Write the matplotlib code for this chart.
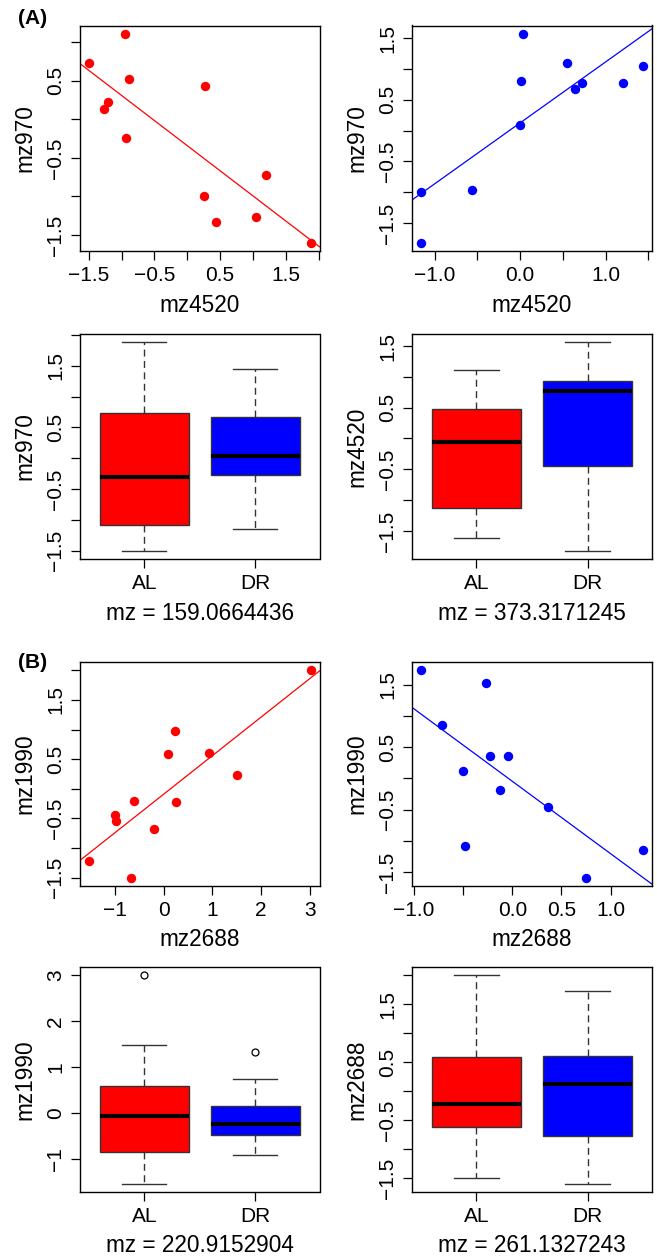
import numpy as np
import matplotlib
matplotlib.use("Agg")
import matplotlib.pyplot as plt

plt.rcParams["font.family"] = ["Liberation Sans", "DejaVu Sans"]

RED = "#FF0000"
BLUE = "#0000FF"

# (A) scatter data
a_al_x = [-1.50, -0.95, -0.89, -1.21, -1.27, -0.94, 0.27, 0.26, 0.44, 1.20, 1.04, 1.88]
a_al_y = [0.73, 1.11, 0.52, 0.22, 0.13, -0.24, 0.43, -0.99, -1.33, -0.72, -1.27, -1.60]
a_dr_x = [-1.16, -0.56, -1.16, 0.00, 0.01, 0.03, 0.55, 0.64, 0.72, 1.20, 1.44]
a_dr_y = [-0.99, -0.97, -1.82, 0.09, 0.81, 1.57, 1.10, 0.67, 0.77, 0.78, 1.04]

# (B) scatter data
b_al_x = [3.02, 0.24, 0.09, 0.93, 1.51, -0.62, 0.25, -1.00, -0.98, -0.21, -1.54, -0.67]
b_al_y = [2.00, 0.97, 0.59, 0.61, 0.24, -0.21, -0.22, -0.45, -0.54, -0.68, -1.22, -1.50]
b_dr_x = [-0.93, -0.27, -0.72, -0.23, -0.04, -0.50, -0.13, 0.36, -0.48, 1.33, 0.75]
b_dr_y = [1.73, 1.52, 0.86, 0.36, 0.36, 0.12, -0.19, -0.46, -1.08, -1.15, -1.59]

# box plot summaries: whislo, q1, median, q3, whishi
groups = ["AL", "DR"]
mz970_al = [-1.50, -1.08, -0.31, 0.74, 1.88]
mz970_dr = [-1.15, -0.27, 0.03, 0.67, 1.44]
mz4520_al = [-1.61, -1.13, -0.05, 0.48, 1.11]
mz4520_dr = [-1.82, -0.44, 0.77, 0.93, 1.56]
mz1990_al = [-1.54, -0.84, -0.07, 0.58, 1.48]
mz1990_dr = [-0.92, -0.49, -0.23, 0.16, 0.75]
mz1990_al_out = [3.00]
mz1990_dr_out = [1.33]
mz2688_al = [-1.50, -0.61, -0.22, 0.60, 2.00]
mz2688_dr = [-1.59, -0.76, 0.12, 0.61, 1.73]

TICK_FS = 15
LAB_FS = 16.3

fig = plt.figure(figsize=(6.57, 12.59), dpi=100)
W, H = 657.0, 1259.0


def make_ax(x0, y0, x1, y1):
    return fig.add_axes([x0 / W, 1 - y1 / H, (x1 - x0) / W, (y1 - y0) / H])


def set_ticks(ax, axis, ticks, shown, ints=False):
    labs = []
    for t in ticks:
        if any(abs(t - s) < 1e-9 for s in shown):
            labs.append(("%d" % t if ints else "%.1f" % t).replace("-", "\u2212"))
        else:
            labs.append("")
    if axis == "x":
        ax.set_xticks(ticks)
        ax.set_xticklabels(labs, fontsize=TICK_FS)
    else:
        ax.set_yticks(ticks)
        ax.set_yticklabels(labs, rotation=90, va="center", fontsize=TICK_FS)


def style(ax):
    for sp in ax.spines.values():
        sp.set_linewidth(1.0)
    ax.tick_params(axis="both", length=6.5, width=0.9, labelsize=TICK_FS)
    ax.tick_params(axis="x", pad=4)
    ax.tick_params(axis="y", pad=4)


def ext(vals):
    lo, hi = min(vals), max(vals)
    d = (hi - lo) * 0.04
    return lo - d, hi + d


def scatter_panel(ax, x, y, color, xlab, ylab):
    ax.scatter(x, y, s=46, color=color, zorder=3, linewidths=0)
    ax.set_xlim(*ext(x))
    ax.set_ylim(*ext(y))
    b, a = np.polyfit(x, y, 1)
    xs = np.array(ax.get_xlim())
    ax.plot(xs, a + b * xs, color=color, lw=0.9, zorder=2)
    ax.set_xlim(*ext(x))
    ax.set_xlabel(xlab, fontsize=LAB_FS, va="center")
    ax.xaxis.set_label_coords(0.5, -0.24)
    ax.set_ylabel(ylab, fontsize=LAB_FS, va="center")
    ax.yaxis.set_label_coords(-0.23, 0.5)
    style(ax)


def box_panel(ax, al, dr, ylab, title, al_out=(), dr_out=()):
    stats = []
    for s, out in ((al, al_out), (dr, dr_out)):
        stats.append(dict(whislo=s[0], q1=s[1], med=s[2], q3=s[3], whishi=s[4],
                          fliers=list(out)))
    bp = ax.bxp(stats, positions=[1, 2], widths=0.8, patch_artist=True,
                showfliers=True,
                boxprops=dict(edgecolor="#333333", linewidth=1.0),
                whiskerprops=dict(color="#333333", linewidth=1.0, linestyle=(0, (5, 3.2))),
                capprops=dict(color="#333333", linewidth=1.0),
                medianprops=dict(color="black", linewidth=3.0, solid_capstyle="butt"),
                flierprops=dict(marker="o", markersize=5, markerfacecolor="none",
                                markeredgecolor="black", markeredgewidth=0.9))
    bp["boxes"][0].set_facecolor(RED)
    bp["boxes"][1].set_facecolor(BLUE)
    allv = list(al) + list(dr) + list(al_out) + list(dr_out)
    ax.set_ylim(*ext(allv))
    ax.set_xlim(0.42, 2.58)
    ax.set_xticks([1, 2])
    ax.set_xticklabels(groups, fontsize=TICK_FS)
    ax.set_xlabel(title, fontsize=LAB_FS, va="center")
    ax.xaxis.set_label_coords(0.5, -0.24)
    ax.set_ylabel(ylab, fontsize=LAB_FS, va="center")
    ax.yaxis.set_label_coords(-0.23, 0.5)
    style(ax)


L0, L1 = 80, 319.5
R0, R1 = 412, 652
rows = [(25.5, 251), (334, 559), (662, 886), (967, 1192)]

# row 1
ax1 = make_ax(L0, rows[0][0], L1, rows[0][1])
scatter_panel(ax1, a_al_x, a_al_y, RED, "mz4520", "mz970")
set_ticks(ax1, "x", np.arange(-1.5, 2.01, 0.5), [-1.5, -0.5, 0.5, 1.5])
set_ticks(ax1, "y", np.arange(-1.5, 1.01, 0.5), [-1.5, -0.5, 0.5])

ax2 = make_ax(R0, rows[0][0], R1, rows[0][1])
scatter_panel(ax2, a_dr_x, a_dr_y, BLUE, "mz4520", "mz970")
set_ticks(ax2, "x", np.arange(-1.0, 1.51, 0.5), [-1.0, 0.0, 1.0])
set_ticks(ax2, "y", np.arange(-1.5, 1.51, 0.5), [-1.5, -0.5, 0.5, 1.5])

# row 2
ax3 = make_ax(L0, rows[1][0], L1, rows[1][1])
box_panel(ax3, mz970_al, mz970_dr, "mz970", "mz = 159.0664436")
set_ticks(ax3, "y", np.arange(-1.5, 2.01, 0.5), [-1.5, -0.5, 0.5, 1.5])

ax4 = make_ax(R0, rows[1][0], R1, rows[1][1])
box_panel(ax4, mz4520_al, mz4520_dr, "mz4520", "mz = 373.3171245")
set_ticks(ax4, "y", np.arange(-1.5, 1.51, 0.5), [-1.5, -0.5, 0.5, 1.5])

# row 3
ax5 = make_ax(L0, rows[2][0], L1, rows[2][1])
scatter_panel(ax5, b_al_x, b_al_y, RED, "mz2688", "mz1990")
set_ticks(ax5, "x", np.arange(-1, 3.01, 1), [-1, 0, 1, 2, 3], ints=True)
set_ticks(ax5, "y", np.arange(-1.5, 2.01, 0.5), [-1.5, -0.5, 0.5, 1.5])

ax6 = make_ax(R0, rows[2][0], R1, rows[2][1])
scatter_panel(ax6, b_dr_x, b_dr_y, BLUE, "mz2688", "mz1990")
set_ticks(ax6, "x", np.arange(-1.0, 1.01, 0.5), [-1.0, 0.0, 0.5, 1.0])
set_ticks(ax6, "y", np.arange(-1.5, 1.51, 0.5), [-1.5, -0.5, 0.5, 1.5])

# row 4
ax7 = make_ax(L0, rows[3][0], L1, rows[3][1])
box_panel(ax7, mz1990_al, mz1990_dr, "mz1990", "mz = 220.9152904",
          mz1990_al_out, mz1990_dr_out)
set_ticks(ax7, "y", np.arange(-1, 3.01, 1), [-1, 0, 1, 2, 3], ints=True)

ax8 = make_ax(R0, rows[3][0], R1, rows[3][1])
box_panel(ax8, mz2688_al, mz2688_dr, "mz2688", "mz = 261.1327243")
set_ticks(ax8, "y", np.arange(-1.5, 2.01, 0.5), [-1.5, -0.5, 0.5, 1.5])

fig.text(33 / W, 1 - 18 / H, "(A)", fontsize=15, fontweight="bold", ha="center", va="center")
fig.text(33 / W, 1 - 662 / H, "(B)", fontsize=15, fontweight="bold", ha="center", va="center")

fig.savefig("out.png", dpi=100)
